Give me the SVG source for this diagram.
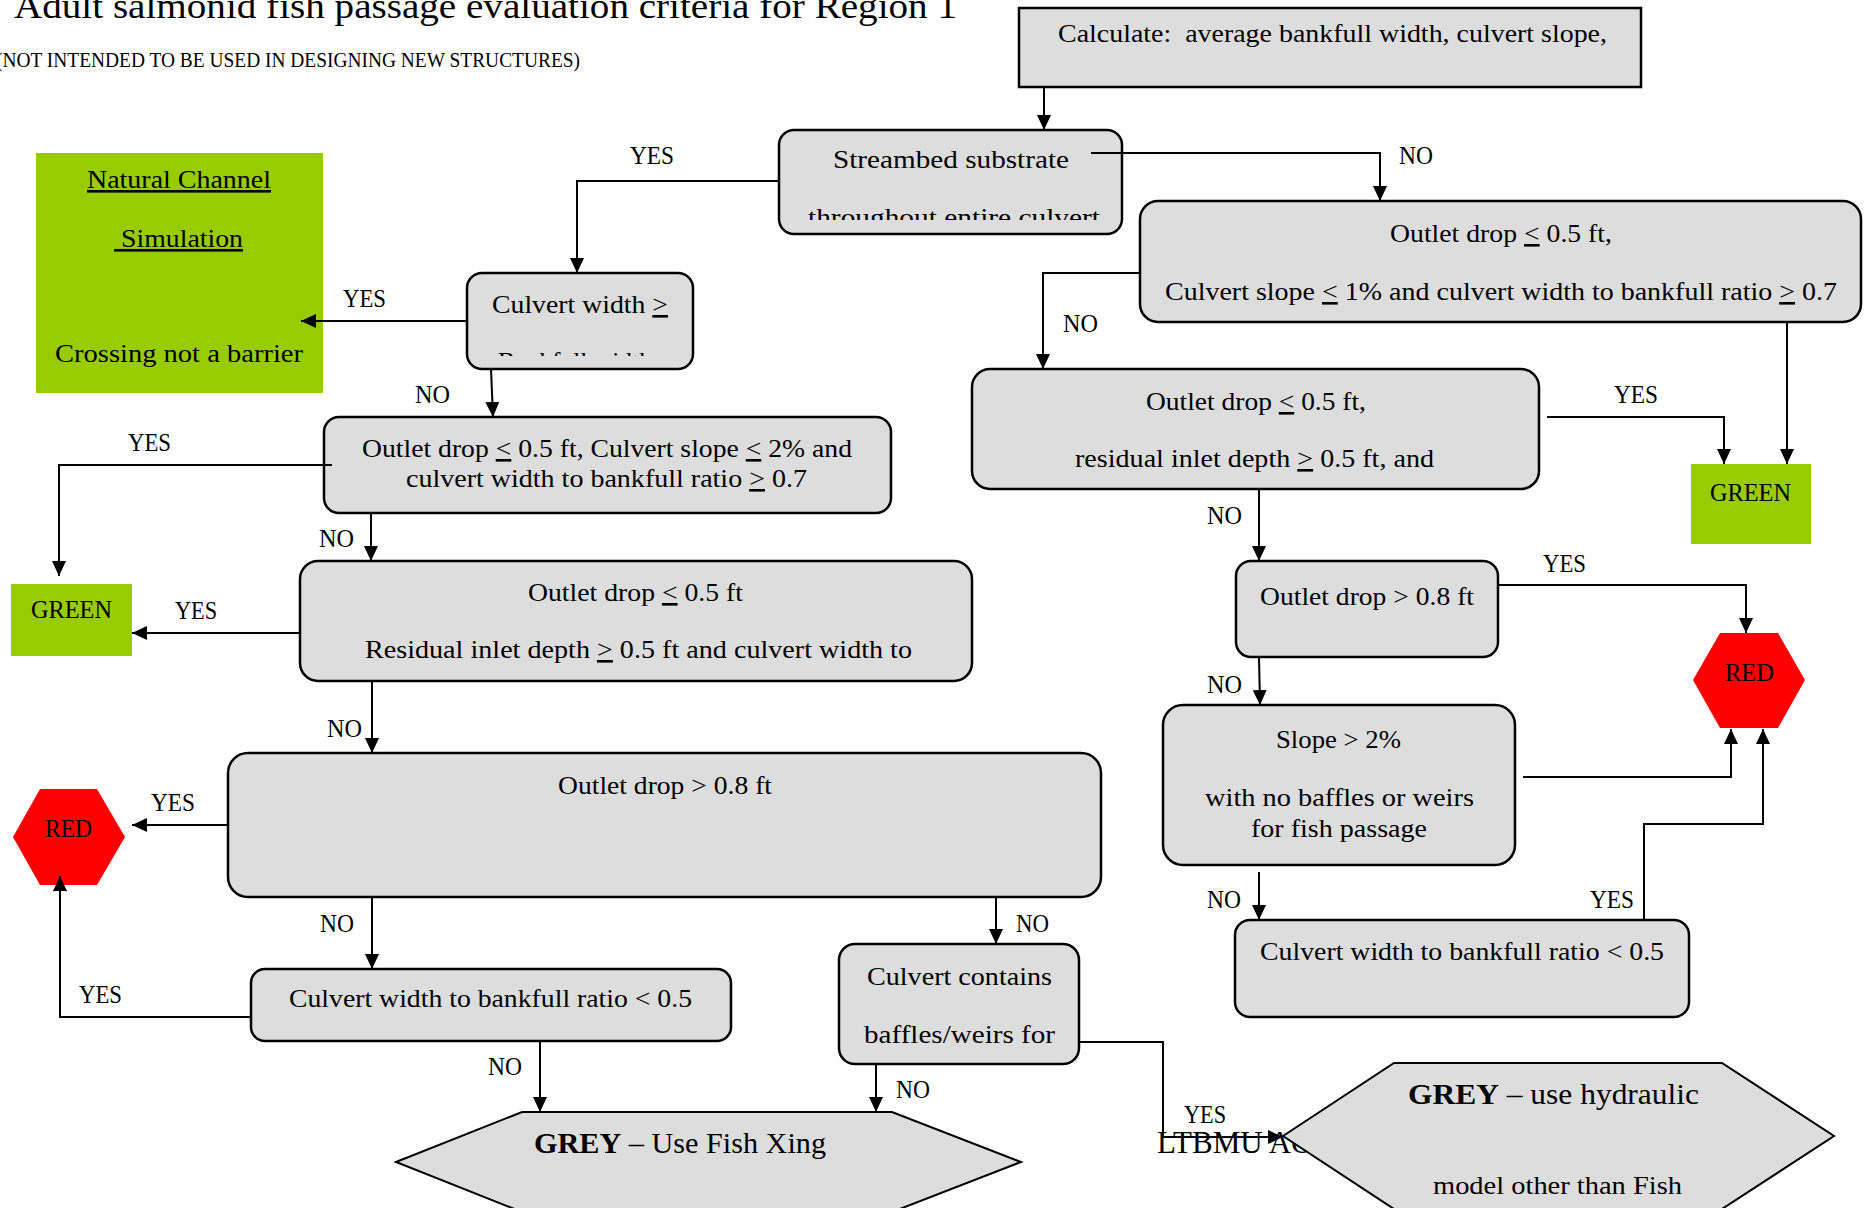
<svg xmlns="http://www.w3.org/2000/svg" width="1865" height="1208" viewBox="0 0 1865 1208">
<style>
.box{fill:#dddddd;stroke:#000;stroke-width:2.5}
.hex{fill:#dddddd;stroke:#000;stroke-width:2}
.green{fill:#99cc00}
.red{fill:#ff0000}
text{font-family:"Liberation Serif","Times New Roman",serif;fill:#000}
.t{font-size:26px}
.lbl{font-size:25px}
.u{text-decoration:underline}
.c{fill:none;stroke:#000;stroke-width:2;marker-end:url(#ah)}
</style>
<defs>
<marker id="ah" markerUnits="userSpaceOnUse" markerWidth="16" markerHeight="14" refX="15" refY="7" orient="auto"><path d="M0,0 L15,7 L0,14 z" fill="#000"/></marker>
<clipPath id="clipStream"><rect x="779" y="130" width="343" height="90"/></clipPath>
<clipPath id="clipCW"><rect x="467" y="273" width="226" height="83"/></clipPath>
</defs>

<g id="title">
<text x="14" y="18" font-size="36" textLength="943" lengthAdjust="spacingAndGlyphs">Adult salmonid fish passage evaluation criteria for Region 1</text>
<text x="-4" y="67" font-size="21" textLength="584" lengthAdjust="spacingAndGlyphs">(NOT INTENDED TO BE USED IN DESIGNING NEW STRUCTURES)</text>
</g>

<g id="n-calculate">
<rect class="box" x="1019" y="8" width="622" height="79"/>
<text class="t" x="1058" y="42" textLength="549" lengthAdjust="spacingAndGlyphs" xml:space="preserve">Calculate:  average bankfull width, culvert slope,</text>
</g>

<g id="n-streambed">
<rect class="box" x="779" y="130" width="343" height="104" rx="15"/>
<text class="t" x="833" y="168" textLength="236" lengthAdjust="spacingAndGlyphs">Streambed substrate</text>
<text class="t" x="808" y="226" textLength="292" lengthAdjust="spacingAndGlyphs" clip-path="url(#clipStream)">throughout entire culvert</text>
</g>

<g id="n-culvert-width">
<rect class="box" x="467" y="273" width="226" height="96" rx="15"/>
<text class="t" x="492" y="313" textLength="176" lengthAdjust="spacingAndGlyphs">Culvert width <tspan class="u">&gt;</tspan></text>
<text class="t" x="498" y="370" textLength="154" lengthAdjust="spacingAndGlyphs" clip-path="url(#clipCW)">Bankfull width</text>
</g>

<g id="n-natural-channel">
<rect class="green" x="36" y="153" width="287" height="240"/>
<text class="t u" x="87" y="188" font-size="27" textLength="184" lengthAdjust="spacingAndGlyphs">Natural Channel</text>
<text class="t u" x="114" y="247" font-size="27" textLength="129" lengthAdjust="spacingAndGlyphs" xml:space="preserve"> Simulation</text>
<text class="t" x="55" y="362" font-size="27" textLength="248" lengthAdjust="spacingAndGlyphs">Crossing not a barrier</text>
</g>

<g id="n-outlet-right-top">
<rect class="box" x="1140" y="201" width="721" height="121" rx="18"/>
<text class="t" x="1390" y="242" textLength="222" lengthAdjust="spacingAndGlyphs">Outlet drop <tspan class="u">&lt;</tspan> 0.5 ft,</text>
<text class="t" x="1165" y="300" textLength="672" lengthAdjust="spacingAndGlyphs">Culvert slope <tspan class="u">&lt;</tspan> 1% and culvert width to bankfull ratio <tspan class="u">&gt;</tspan> 0.7</text>
</g>

<g id="n-outlet-right-mid">
<rect class="box" x="972" y="369" width="567" height="120" rx="18"/>
<text class="t" x="1146" y="410" textLength="220" lengthAdjust="spacingAndGlyphs">Outlet drop <tspan class="u">&lt;</tspan> 0.5 ft,</text>
<text class="t" x="1075" y="467" textLength="359" lengthAdjust="spacingAndGlyphs">residual inlet depth <tspan class="u">&gt;</tspan> 0.5 ft, and</text>
</g>

<g id="n-green-right">
<rect class="green" x="1691" y="464" width="120" height="80"/>
<text class="t" x="1710" y="501" textLength="81" lengthAdjust="spacingAndGlyphs">GREEN</text>
</g>

<g id="n-outlet08-right">
<rect class="box" x="1236" y="561" width="262" height="96" rx="15"/>
<text class="t" x="1260" y="605" textLength="214" lengthAdjust="spacingAndGlyphs">Outlet drop &gt; 0.8 ft</text>
</g>

<g id="n-red-right">
<polygon class="red" points="1693,680 1720,633 1778,633 1805,680 1778,728 1720,728"/>
<text class="t" x="1725" y="681" textLength="49" lengthAdjust="spacingAndGlyphs">RED</text>
</g>

<g id="n-slope">
<rect class="box" x="1163" y="705" width="352" height="160" rx="20"/>
<text class="t" x="1276" y="748" textLength="125" lengthAdjust="spacingAndGlyphs">Slope &gt; 2%</text>
<text class="t" x="1205" y="806" textLength="269" lengthAdjust="spacingAndGlyphs">with no baffles or weirs</text>
<text class="t" x="1251" y="837" textLength="176" lengthAdjust="spacingAndGlyphs">for fish passage</text>
</g>

<g id="n-ratio-right">
<rect class="box" x="1235" y="920" width="454" height="97" rx="15"/>
<text class="t" x="1260" y="960" textLength="404" lengthAdjust="spacingAndGlyphs">Culvert width to bankfull ratio &lt; 0.5</text>
</g>

<g id="n-outlet-left-1">
<rect class="box" x="324" y="417" width="567" height="96" rx="15"/>
<text class="t" x="362" y="457" textLength="490" lengthAdjust="spacingAndGlyphs">Outlet drop <tspan class="u">&lt;</tspan> 0.5 ft, Culvert slope <tspan class="u">&lt;</tspan> 2% and</text>
<text class="t" x="406" y="487" textLength="401" lengthAdjust="spacingAndGlyphs">culvert width to bankfull ratio <tspan class="u">&gt;</tspan> 0.7</text>
</g>

<g id="n-green-left">
<rect class="green" x="11" y="584" width="121" height="72"/>
<text class="t" x="31" y="618" textLength="81" lengthAdjust="spacingAndGlyphs">GREEN</text>
</g>

<g id="n-outlet-left-2">
<rect class="box" x="300" y="561" width="672" height="120" rx="18"/>
<text class="t" x="528" y="601" textLength="215" lengthAdjust="spacingAndGlyphs">Outlet drop <tspan class="u">&lt;</tspan> 0.5 ft</text>
<text class="t" x="365" y="658" textLength="547" lengthAdjust="spacingAndGlyphs">Residual inlet depth <tspan class="u">&gt;</tspan> 0.5 ft and culvert width to</text>
</g>

<g id="n-outlet08-left">
<rect class="box" x="228" y="753" width="873" height="144" rx="20"/>
<text class="t" x="558" y="794" textLength="214" lengthAdjust="spacingAndGlyphs">Outlet drop &gt; 0.8 ft</text>
</g>

<g id="n-red-left">
<polygon class="red" points="13,837 40,789 97,789 125,837 97,885 40,885"/>
<text class="t" x="45" y="837" textLength="47" lengthAdjust="spacingAndGlyphs">RED</text>
</g>

<g id="n-ratio-left">
<rect class="box" x="251" y="969" width="480" height="72" rx="14"/>
<text class="t" x="289" y="1007" textLength="403" lengthAdjust="spacingAndGlyphs">Culvert width to bankfull ratio &lt; 0.5</text>
</g>

<g id="n-culvert-contains">
<rect class="box" x="839" y="944" width="240" height="120" rx="16"/>
<text class="t" x="867" y="985" textLength="185" lengthAdjust="spacingAndGlyphs">Culvert contains</text>
<text class="t" x="864" y="1043" textLength="191" lengthAdjust="spacingAndGlyphs">baffles/weirs for</text>
</g>

<g id="n-grey-left">
<polygon class="hex" points="396,1162 522,1112 892,1112 1021,1162 892,1212 522,1212"/>
<text x="534" y="1153" font-size="30" textLength="292" lengthAdjust="spacingAndGlyphs"><tspan font-weight="bold">GREY</tspan> – Use Fish Xing</text>
</g>

<g id="n-grey-right">
<text x="1157" y="1153" font-size="31">LTBMU AOP</text>
<polygon class="hex" points="1283,1136 1394,1063 1722,1063 1834,1136 1722,1209 1394,1209"/>
<text x="1408" y="1104" font-size="30" textLength="291" lengthAdjust="spacingAndGlyphs"><tspan font-weight="bold">GREY</tspan> – use hydraulic</text>
<text class="t" x="1433" y="1194" textLength="249" lengthAdjust="spacingAndGlyphs">model other than Fish</text>
</g>

<g id="connectors">
<path class="c" d="M1044,87 V130"/>
<path class="c" d="M779,181 H577 V273"/>
<path class="c" d="M1091,153 H1380 V201"/>
<path class="c" d="M467,321 H301"/>
<path class="c" d="M491,369 L493,417"/>
<path class="c" d="M1140,273 H1043 V369"/>
<path class="c" d="M1787,322 V464"/>
<path class="c" d="M1547,417 H1724 V464"/>
<path class="c" d="M1259,489 V561"/>
<path class="c" d="M1498,585 H1746 V633"/>
<path class="c" d="M1259,657 L1260,705"/>
<path class="c" d="M1523,777 H1731 V729"/>
<path class="c" d="M1644,920 V824 H1763 V729"/>
<path class="c" d="M1259,872 V920"/>
<path class="c" d="M332,465 H59 V576"/>
<path class="c" d="M371,513 V561"/>
<path class="c" d="M300,633 H132"/>
<path class="c" d="M372,681 V753"/>
<path class="c" d="M228,825 H132"/>
<path class="c" d="M251,1017 H60 V876"/>
<path class="c" d="M372,897 V969"/>
<path class="c" d="M996,897 V944"/>
<path class="c" d="M876,1064 V1112"/>
<path class="c" d="M540,1040 V1112"/>
<path class="c" d="M1080,1042 H1163 V1137 H1283"/>
<g id="labels">
<text class="lbl" x="630" y="164" textLength="44" lengthAdjust="spacingAndGlyphs">YES</text>
<text class="lbl" x="1399" y="164" textLength="34" lengthAdjust="spacingAndGlyphs">NO</text>
<text class="lbl" x="343" y="307" textLength="43" lengthAdjust="spacingAndGlyphs">YES</text>
<text class="lbl" x="1063" y="332" textLength="35" lengthAdjust="spacingAndGlyphs">NO</text>
<text class="lbl" x="415" y="403" textLength="35" lengthAdjust="spacingAndGlyphs">NO</text>
<text class="lbl" x="128" y="451" textLength="43" lengthAdjust="spacingAndGlyphs">YES</text>
<text class="lbl" x="1614" y="403" textLength="44" lengthAdjust="spacingAndGlyphs">YES</text>
<text class="lbl" x="1207" y="524" textLength="35" lengthAdjust="spacingAndGlyphs">NO</text>
<text class="lbl" x="1543" y="572" textLength="43" lengthAdjust="spacingAndGlyphs">YES</text>
<text class="lbl" x="319" y="547" textLength="35" lengthAdjust="spacingAndGlyphs">NO</text>
<text class="lbl" x="175" y="619" textLength="42" lengthAdjust="spacingAndGlyphs">YES</text>
<text class="lbl" x="1207" y="693" textLength="35" lengthAdjust="spacingAndGlyphs">NO</text>
<text class="lbl" x="327" y="737" textLength="35" lengthAdjust="spacingAndGlyphs">NO</text>
<text class="lbl" x="151" y="811" textLength="44" lengthAdjust="spacingAndGlyphs">YES</text>
<text class="lbl" x="320" y="932" textLength="34" lengthAdjust="spacingAndGlyphs">NO</text>
<text class="lbl" x="1016" y="932" textLength="33" lengthAdjust="spacingAndGlyphs">NO</text>
<text class="lbl" x="79" y="1003" textLength="43" lengthAdjust="spacingAndGlyphs">YES</text>
<text class="lbl" x="1207" y="908" textLength="34" lengthAdjust="spacingAndGlyphs">NO</text>
<text class="lbl" x="1590" y="908" textLength="44" lengthAdjust="spacingAndGlyphs">YES</text>
<text class="lbl" x="488" y="1075" textLength="34" lengthAdjust="spacingAndGlyphs">NO</text>
<text class="lbl" x="896" y="1098" textLength="34" lengthAdjust="spacingAndGlyphs">NO</text>
<text class="lbl" x="1184" y="1123" textLength="42" lengthAdjust="spacingAndGlyphs">YES</text>
</g>
</g>
</svg>
